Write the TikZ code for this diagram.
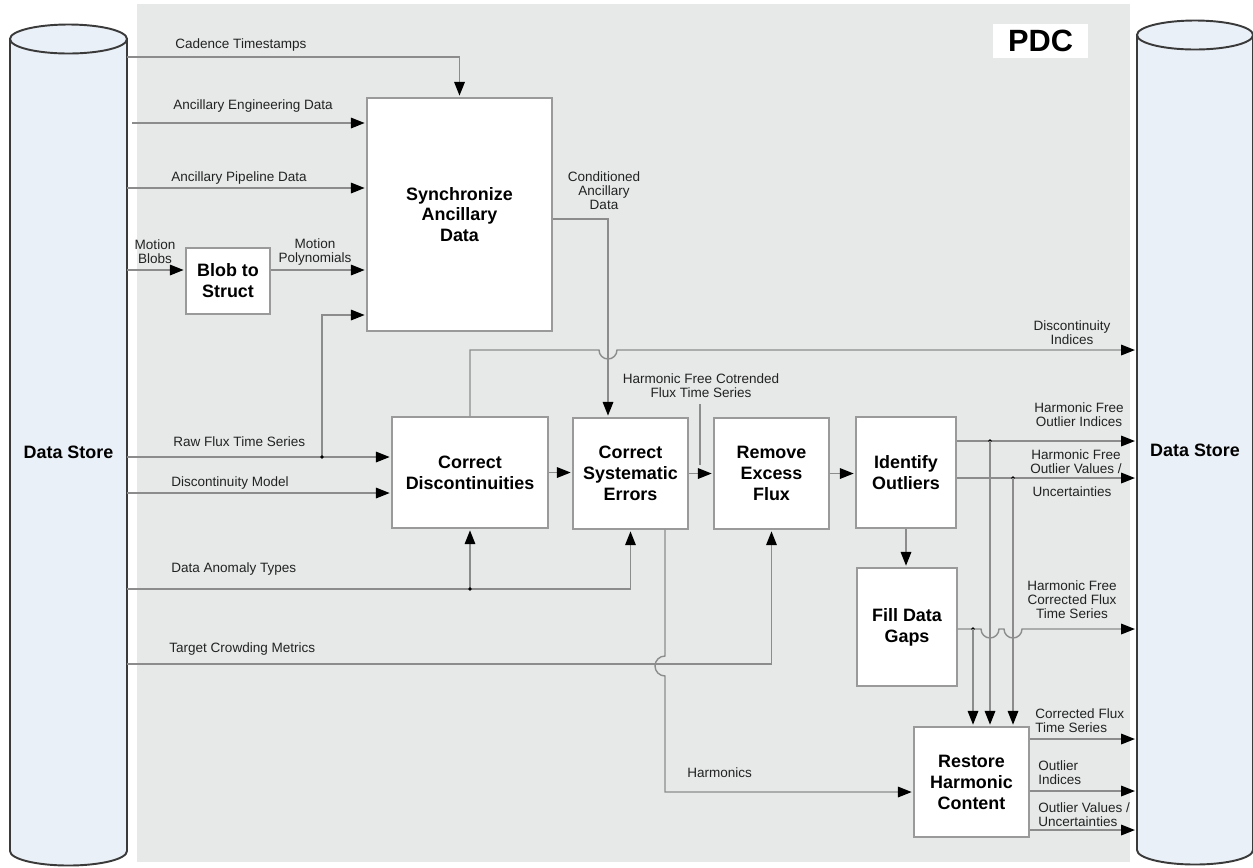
\documentclass[tikz,border=0pt]{standalone}
\usepackage{fontspec}
\setmainfont{Liberation Sans}
\usetikzlibrary{arrows.meta}

\definecolor{bggray}{HTML}{E7E9E9}
\definecolor{cylfill}{HTML}{EAF0F7}
\definecolor{cylline}{HTML}{3A3A3A}
\definecolor{wire}{HTML}{8C8C8C}
\definecolor{boxgray}{HTML}{9A9A9A}
\definecolor{inkgray}{HTML}{222222}

\tikzset{
  proc/.style={draw=boxgray, line width=0.7pt, fill=white, align=center, inner sep=0pt,
    font=\fontsize{10.2}{11.9}\selectfont\bfseries},
  storetxt/.style={inner sep=0pt, font=\fontsize{10.2}{11.9}\selectfont\bfseries},
  lbl/.style={align=center, inner sep=0pt, text=inkgray, font=\fontsize{7.7}{7.9}\selectfont},
  wireline/.style={draw=wire, line width=0.8pt},
  flow/.style={wireline, shorten >=1pt, -{Triangle[length=7.8pt,width=6pt,color=black]}},
  cyl/.style={fill=cylfill, draw=cylline, line width=1.1pt},
  pdcbox/.style={fill=white, inner sep=0pt, minimum width=1.9cm, minimum height=0.68cm,
    font=\fontsize{17.5}{18}\selectfont\bfseries}
}

\begin{document}
\begin{tikzpicture}[x=0.02cm,y=-0.02cm]
\useasboundingbox (0,0) rectangle (1253,867);

%background of the PDC area
\fill[bggray] (137,4) rectangle (1130,862);
\node[pdcbox] (pdc) at (1040.5,41) {PDC};

%data stores
\filldraw[cyl] (10,39) -- (10,851) arc[start angle=180,end angle=360,x radius=1.17cm,y radius=0.29cm] -- (127,39) -- cycle;
\filldraw[cyl] (68.5,39) ellipse[x radius=1.17cm,y radius=0.29cm];
\filldraw[cyl] (1137,35) -- (1137,850) arc[start angle=180,end angle=360,x radius=1.16cm,y radius=0.29cm] -- (1253,35) -- cycle;
\filldraw[cyl] (1195,35) ellipse[x radius=1.16cm,y radius=0.29cm];
\node[storetxt, minimum width=2.34cm] (storeL) at (68.5,452) {Data Store};
\node[storetxt, minimum width=2.32cm] (storeR) at (1195,450) {Data Store};

%processing blocks
\node[proc, minimum width=3.70cm, minimum height=4.66cm] (sync) at (459.5,214.5) {Synchronize\\Ancillary\\Data};
\node[proc, minimum width=1.68cm, minimum height=1.32cm] (blob) at (228,281) {Blob to\\Struct};
\node[proc, minimum width=3.12cm, minimum height=2.22cm] (disc) at (470,472.5) {Correct\\Discontinuities};
\node[proc, minimum width=2.30cm, minimum height=2.22cm] (syst) at (630.5,473.5) {Correct\\Systematic\\Errors};
\node[proc, minimum width=2.30cm, minimum height=2.22cm] (excess) at (771.5,473.5) {Remove\\Excess\\Flux};
\node[proc, minimum width=2.00cm, minimum height=2.22cm] (outl) at (906,472.5) {Identify\\Outliers};
\node[proc, minimum width=2.00cm, minimum height=2.36cm] (gaps) at (907,627) {Fill Data\\Gaps};
\node[proc, minimum width=2.30cm, minimum height=2.20cm] (restore) at (971.5,782) {Restore\\Harmonic\\Content};

%inputs from the left store
\draw[flow] (storeL.east |- 0,57) -| (sync.north);
\draw[flow, shorten <=0.1cm] (storeL.east |- 0,123) -- (sync.west |- 0,123);
\draw[flow] (storeL.east |- 0,188) -- (sync.west |- 0,188);
\draw[flow] (storeL.east |- 0,270) -- (blob.west |- 0,270);
\draw[flow] (blob.east |- 0,270) -- (sync.west |- 0,270);
\draw[flow] (storeL.east |- 0,457) -- (disc.west |- 0,457);
\draw[flow] (322,457) |- (sync.west |- 0,315);
\fill (322,457) circle(1.1pt);
\draw[flow] (storeL.east |- 0,493) -- (disc.west |- 0,493);
\draw[flow] (storeL.east |- 0,589) -| (syst.south);
\draw[flow] (disc.south |- 0,589) -- (disc.south);
\fill (disc.south |- 0,589) circle(1.1pt);
\draw[flow] (storeL.east |- 0,664) -| (excess.south);

%the chain of blocks
\draw[flow] (sync.east |- 0,219) -| (syst.north -| 608,0);
\draw[flow] (disc.east) -- (disc.east -| syst.west);
\draw[flow] (syst.east) -- (syst.east -| excess.west);
\draw[flow] (excess.east) -- (excess.east -| outl.west);
\draw[flow] (outl.south) -- (outl.south |- gaps.north);
\draw[flow] (disc.north) -- (disc.north |- 0,350) -- (599,350)
  arc[start angle=180,end angle=360,radius=0.18cm] -- (storeR.west |- 0,350);
\draw[flow] (syst.south -| 665,0) -- (665,656)
  arc[start angle=90,end angle=270,radius=0.2cm] -- (665,792) -- (restore.west |- 0,792);

%outputs to the right store
\draw[flow] (outl.east |- 0,441) -- (storeR.west |- 0,441);
\draw[flow] (outl.east |- 0,478) -- (storeR.west |- 0,478);
\draw[flow] (gaps.east |- 0,629) -- (981,629)
  arc[start angle=180,end angle=360,radius=0.18cm] -- (1004,629)
  arc[start angle=180,end angle=360,radius=0.18cm] -- (storeR.west |- 0,629);
\foreach \x/\y in {973/629,990/441,1013/478} {
  \fill (\x,\y) circle(1.1pt);
  \draw[flow] (\x,\y) -- (restore.north -| \x,0);
}
\foreach \y in {739,791,830} {
  \draw[flow] (restore.east |- 0,\y) -- (storeR.west |- 0,\y);
}

%labels
\node[lbl, anchor=west] (lCad) at (175,45) {Cadence Timestamps};
\node[lbl, anchor=west] (lEng) at (173,106) {Ancillary Engineering Data};
\node[lbl, anchor=west] (lPipe) at (171,178) {Ancillary Pipeline Data};
\node[lbl] (lBlobs) at (155,252) {Motion\\Blobs};
\node[lbl] (lPoly) at (315,252) {Motion\\Polynomials};
\node[lbl] (lCond) at (604,191) {Conditioned\\Ancillary\\Data};
\node[lbl, anchor=west] (lRaw) at (173,442) {Raw Flux Time Series};
\node[lbl, anchor=west] (lModel) at (171,483) {Discontinuity Model};
\node[lbl, anchor=west] (lAnom) at (171,569) {Data Anomaly Types};
\node[lbl, anchor=west] (lCrowd) at (169,649) {Target Crowding Metrics};
\node[lbl] (lCotr) at (701,386) {Harmonic Free Cotrended\\Flux Time Series};
\draw[wireline] (lCotr.south -| 700,0) ++(0,6) -- (700,465);
\node[lbl] (lDisc) at (1072,333) {Discontinuity\\Indices};
\node[lbl] (lOutInd) at (1079,414.5) {Harmonic Free\\Outlier Indices};
\node[lbl] (lOutVal) at (1076,461.5) {Harmonic Free\\Outlier Values /};
\node[lbl] (lUnc) at (1072,492) {Uncertainties};
\node[lbl] (lHfc) at (1072,600) {Harmonic Free\\Corrected Flux\\Time Series};
\node[lbl, anchor=west] (lHarm) at (687,773) {Harmonics};
\node[lbl, anchor=west, align=left] (lCfts) at (1035,721) {Corrected Flux\\Time Series};
\node[lbl, anchor=west, align=left] (lOi) at (1038,772.5) {Outlier\\Indices};
\node[lbl, anchor=west, align=left] (lOv) at (1038,814.5) {Outlier Values /\\Uncertainties};
\end{tikzpicture}
\end{document}
